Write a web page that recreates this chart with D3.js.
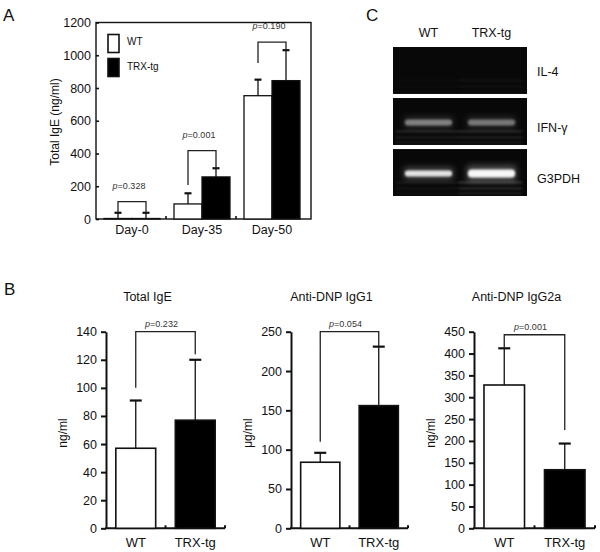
<!DOCTYPE html>
<html>
<head>
<meta charset="utf-8">
<script src="https://cdn.jsdelivr.net/npm/d3@7"></script>
<style>
    body { margin: 0; background: #fff; }
    svg { display: block; font-family: "Liberation Sans", Arial, sans-serif; }
</style>
</head>
<body>
<div id="chart"></div>
<script>
//==========================================================================================
// Data
//==========================================================================================
var groups = ["WT", "TRX-tg"];

// Panel A - total IgE over time
var days = ["Day-0", "Day-35", "Day-50"];
var wtIgE = [3, 92, 753];
var wtIgESd = [35, 65, 98];
var trxIgE = [3, 257, 845];
var trxIgESd = [35, 53, 186];
var dayP = ["0.328", "0.001", "0.190"];
var dayBracketTop = [106, 418, 1080];
var dayBracketWt = [38, 208, 953];
var dayBracketTrx = [38, 310, 1031];
var dayTicks = [0, 200, 400, 600, 800, 1000, 1200];

// Panel B - three antibody charts
var bTitles = ["Total IgE", "Anti-DNP IgG1", "Anti-DNP IgG2a"];
var bUnits = ["ng/ml", "\u03bcg/ml", "ng/ml"];
var bMax = [140, 250, 450];
var bTickStep = [20, 50, 50];
var bWt = [57, 84, 328];
var bWtSd = [34, 12, 84];
var bTrx = [77, 156, 134];
var bTrxSd = [43, 75, 60];
var bP = ["0.232", "0.054", "0.001"];
var bBracketTop = [140, 250, 443];
var bBracketWt = [100, 110, 412];
var bBracketTrx = [124, 231, 225];

// Panel C - RT-PCR gel
var gelRows = ["IL-4", "IFN-\u03b3", "G3PDH"];
var gelLanes = ["WT", "TRX-tg"];
var gelBand = [[0.0, 0.0], [0.42, 0.38], [0.85, 0.95]];
var gelSmear = [[0.02, 0.05], [0.13, 0.15], [0.07, 0.2]];

(function() {
    "use strict";

    var W = 600, H = 552;
    var ink = "#111";

    var svg = d3.select("#chart").append("svg")
        .attr("width", W)
        .attr("height", H);

    var defs = svg.append("defs");
    defs.append("filter").attr("id", "blur1")
        .attr("x", "-20%").attr("y", "-100%").attr("width", "140%").attr("height", "300%")
        .append("feGaussianBlur").attr("stdDeviation", 1.1);
    defs.append("filter").attr("id", "blur3")
        .attr("x", "-30%").attr("y", "-150%").attr("width", "160%").attr("height", "400%")
        .append("feGaussianBlur").attr("stdDeviation", 3);

    //------------------------------------------------------------------------------------------
    // Panel letters
    //------------------------------------------------------------------------------------------
    [["A", 3, 21], ["B", 4, 295], ["C", 366, 21]].forEach(function(d) {
        svg.append("text").attr("x", d[1]).attr("y", d[2])
            .attr("font-size", 17).attr("fill", ink).text(d[0]);
    });

    //------------------------------------------------------------------------------------------
    // Shared helpers
    //------------------------------------------------------------------------------------------
    function errorBar(g, cx, y0, y1, capW) {
        g.append("line").attr("x1", cx).attr("x2", cx).attr("y1", y0).attr("y2", y1)
            .attr("stroke", ink).attr("stroke-width", 1.3);
        g.append("line").attr("x1", cx - capW / 2).attr("x2", cx + capW / 2)
            .attr("y1", y1).attr("y2", y1)
            .attr("stroke", ink).attr("stroke-width", 2.2);
    }

    function bracket(g, x1, yEnd1, yTop, x2, yEnd2) {
        g.append("path")
            .attr("d", "M" + x1 + "," + yEnd1 + "V" + yTop + "H" + x2 + "V" + yEnd2)
            .attr("fill", "none").attr("stroke", "#222").attr("stroke-width", 1.3);
    }

    function pLabel(g, x, y, p) {
        var t = g.append("text").attr("x", x).attr("y", y)
            .attr("text-anchor", "middle").attr("font-size", 9).attr("fill", "#333");
        t.append("tspan").attr("font-style", "italic").text("p");
        t.append("tspan").text("=" + p);
    }

    //==========================================================================================
    // Panel A
    //==========================================================================================
    var gA = svg.append("g");
    var ax = d3.scaleBand().domain(days).range([96, 306]);
    var ay = d3.scaleLinear().domain([0, 1200]).range([219, 22.5]);
    var aSub = d3.scaleBand().domain(groups).range([8, 64]);

    gA.append("rect")
        .attr("x", 96).attr("y", ay(1200))
        .attr("width", 311 - 96).attr("height", ay(0) - ay(1200))
        .attr("fill", "none").attr("stroke", ink).attr("stroke-width", 1.4);

    var aAxis = gA.append("g").attr("transform", "translate(96,0)")
        .call(d3.axisLeft(ay).tickValues(dayTicks).tickFormat(d3.format("d"))
            .tickSizeInner(-3).tickSizeOuter(0).tickPadding(5));
    aAxis.select(".domain").remove();
    aAxis.selectAll(".tick line").attr("stroke", ink).attr("stroke-width", 1.6);
    aAxis.selectAll(".tick text").attr("font-size", 12.5).attr("fill", ink)
        .attr("font-family", "\"Liberation Sans\", Arial, sans-serif");

    // small inner ticks between day groups
    days.slice(1).forEach(function(d) {
        gA.append("line").attr("x1", ax(d)).attr("x2", ax(d))
            .attr("y1", ay(0)).attr("y2", ay(0) - 3)
            .attr("stroke", ink).attr("stroke-width", 1.6);
    });

    days.forEach(function(d) {
        gA.append("text").attr("x", ax(d) + ax.bandwidth() / 2 + 1).attr("y", 234)
            .attr("text-anchor", "middle").attr("font-size", 12.5).attr("fill", ink).text(d);
    });

    gA.append("text")
        .attr("transform", "translate(59,122) rotate(-90)")
        .attr("text-anchor", "middle").attr("font-size", 12).attr("fill", ink)
        .text("Total IgE (ng/ml)");

    var aSeries = [
        { name: "WT", vals: wtIgE, sd: wtIgESd, fill: "#fff" },
        { name: "TRX-tg", vals: trxIgE, sd: trxIgESd, fill: "#000" }
    ];

    aSeries.forEach(function(s) {
        gA.selectAll(null).data(days).enter().append("rect")
            .attr("x", function(d) { return ax(d) + aSub(s.name); })
            .attr("y", function(d, i) { return ay(s.vals[i]); })
            .attr("width", aSub.bandwidth())
            .attr("height", function(d, i) { return ay(0) - ay(s.vals[i]); })
            .attr("fill", s.fill).attr("stroke", ink).attr("stroke-width", 1.3);
    });

    aSeries.forEach(function(s) {
        days.forEach(function(d, i) {
            var cx = ax(d) + aSub(s.name) + aSub.bandwidth() / 2;
            errorBar(gA, cx, ay(s.vals[i]), ay(s.vals[i] + s.sd[i]), 7);
        });
    });

    days.forEach(function(d, i) {
        var x1 = ax(d) + aSub("WT") + aSub.bandwidth() / 2;
        var x2 = ax(d) + aSub("TRX-tg") + aSub.bandwidth() / 2;
        bracket(gA, x1, ay(dayBracketWt[i]), ay(dayBracketTop[i]), x2, ay(dayBracketTrx[i]));
        pLabel(gA, (x1 + x2) / 2 - 3, ay(dayBracketTop[i]) - 13, dayP[i]);
    });

    // legend
    var legend = gA.append("g");
    legend.selectAll("rect").data(groups).enter().append("rect")
        .attr("x", 108).attr("y", function(d, i) { return 34.5 + i * 24; })
        .attr("width", 11).attr("height", 18)
        .attr("fill", function(d, i) { return aSeries[i].fill; })
        .attr("stroke", ink).attr("stroke-width", 1.6);
    legend.selectAll("text").data(groups).enter().append("text")
        .attr("x", 127).attr("y", function(d, i) { return 44.5 + i * 25.5; })
        .attr("font-size", 10).attr("fill", ink).text(function(d) { return d; });

    //==========================================================================================
    // Panel B
    //==========================================================================================
    var bLeft = [106, 291, 474];
    var bRight = [225, 408, 595];
    var bBottom = 528.3, bTop = 331.7;

    bTitles.forEach(function(title, i) {
        var g = svg.append("g");
        var x = d3.scaleBand().domain(groups).range([bLeft[i], bRight[i]])
            .paddingInner(0.33).paddingOuter(0.165);
        var y = d3.scaleLinear().domain([0, bMax[i]]).range([bBottom, bTop]);

        var yAxis = g.append("g").attr("transform", "translate(" + bLeft[i] + ",0)")
            .call(d3.axisLeft(y).tickValues(d3.range(0, bMax[i] + 1, bTickStep[i]))
                .tickSize(5).tickSizeOuter(0).tickPadding(4));
        yAxis.select(".domain").attr("stroke", ink).attr("stroke-width", 2);
        yAxis.selectAll(".tick line").attr("stroke", ink).attr("stroke-width", 2);
        yAxis.selectAll(".tick text").attr("font-size", 12.5).attr("fill", ink)
            .attr("font-family", "\"Liberation Sans\", Arial, sans-serif");

        g.append("line").attr("x1", bLeft[i] - 1).attr("x2", bRight[i])
            .attr("y1", bBottom).attr("y2", bBottom)
            .attr("stroke", ink).attr("stroke-width", 2);
        [x("TRX-tg") - x.step() * x.paddingInner() / 2, bRight[i]].forEach(function(tx) {
            g.append("line").attr("x1", tx).attr("x2", tx)
                .attr("y1", bBottom).attr("y2", bBottom - 3)
                .attr("stroke", ink).attr("stroke-width", 2);
        });

        groups.forEach(function(grp) {
            g.append("text").attr("x", x(grp) + x.bandwidth() / 2).attr("y", 547)
                .attr("text-anchor", "middle").attr("font-size", 13).attr("fill", ink).text(grp);
        });

        g.append("text").attr("x", (bLeft[i] + bRight[i]) / 2 - 18).attr("y", 301)
            .attr("text-anchor", "middle").attr("font-size", 12.5).attr("fill", ink).text(title);

        g.append("text")
            .attr("transform", "translate(" + (bLeft[i] - 39) + ",433) rotate(-90)")
            .attr("text-anchor", "middle").attr("font-size", 12).attr("fill", ink)
            .text(bUnits[i]);

        var vals = [bWt[i], bTrx[i]];
        var sds = [bWtSd[i], bTrxSd[i]];

        g.selectAll(".bar").data(groups).enter().append("rect")
            .attr("x", function(d) { return x(d); })
            .attr("y", function(d, j) { return y(vals[j]); })
            .attr("width", x.bandwidth())
            .attr("height", function(d, j) { return y(0) - y(vals[j]); })
            .attr("fill", function(d, j) { return j === 0 ? "#fff" : "#000"; })
            .attr("stroke", ink).attr("stroke-width", 1.6);

        groups.forEach(function(grp, j) {
            errorBar(g, x(grp) + x.bandwidth() / 2, y(vals[j]), y(vals[j] + sds[j]), 12);
        });

        var x1 = x("WT") + x.bandwidth() / 2;
        var x2 = x("TRX-tg") + x.bandwidth() / 2;
        bracket(g, x1, y(bBracketWt[i]), y(bBracketTop[i]), x2, y(bBracketTrx[i]));
        pLabel(g, (x1 + x2) / 2 - 4, y(bBracketTop[i]) - 5, bP[i]);
    });

    //==========================================================================================
    // Panel C - gel
    //==========================================================================================
    var gC = svg.append("g");
    var gelX0 = 393, gelX1 = 527;
    var row = d3.scaleBand().domain(gelRows).range([47, 196]).paddingInner(0.08);
    var lane = d3.scaleBand().domain(gelLanes).range([398, 524])
        .paddingInner(0.28).paddingOuter(0.14);

    gelLanes.forEach(function(l) {
        gC.append("text").attr("x", lane(l) + lane.bandwidth() / 2 - 1).attr("y", 37)
            .attr("text-anchor", "middle").attr("font-size", 12.5).attr("fill", ink).text(l);
    });

    gelRows.forEach(function(r, ri) {
        var top = row(r), h = row.bandwidth();
        var clipId = "gelclip" + ri;
        defs.append("clipPath").attr("id", clipId).append("rect")
            .attr("x", gelX0).attr("y", top).attr("width", gelX1 - gelX0).attr("height", h);

        var strip = gC.append("g").attr("clip-path", "url(#" + clipId + ")");
        strip.append("rect").attr("x", gelX0).attr("y", top)
            .attr("width", gelX1 - gelX0).attr("height", h).attr("fill", "#080808");

        var bandY = top + h * 0.52;
        gelLanes.forEach(function(l, li) {
            var lvl = gelBand[ri][li];
            var bx = lane(l) - 3, bw = lane.bandwidth() + 4;
            var bh = ri === 2 && li === 1 ? 8 : 6;

            // smear below the band
            [9, 15, 20].forEach(function(off, k) {
                strip.append("rect")
                    .attr("x", bx - 8).attr("y", bandY + off - 1)
                    .attr("width", bw + 14).attr("height", 2)
                    .attr("fill", "#fff").attr("opacity", gelSmear[ri][li] * (1 - k * 0.25))
                    .attr("filter", "url(#blur1)");
            });

            if (lvl <= 0) return;

            // glow and core
            strip.append("rect")
                .attr("x", bx).attr("y", bandY - bh)
                .attr("width", bw).attr("height", bh * 2)
                .attr("fill", "#fff").attr("opacity", lvl * 0.3)
                .attr("filter", "url(#blur3)");
            strip.append("rect")
                .attr("x", bx + 1).attr("y", bandY - bh / 2)
                .attr("width", bw - 2).attr("height", bh).attr("rx", bh / 2)
                .attr("fill", "#fff").attr("opacity", lvl)
                .attr("filter", "url(#blur1)");
        });

        gC.append("text").attr("x", 537).attr("y", top + h / 2 + (ri === 0 ? 6 : 10))
            .attr("font-size", 12.5).attr("fill", ink).text(r);
    });

})();
</script>
</body>
</html>
